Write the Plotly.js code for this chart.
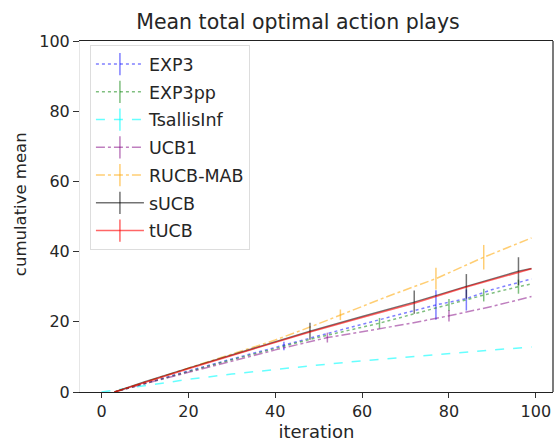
<!DOCTYPE html>
<html>
<head>
<meta charset="utf-8">
<script src="https://cdn.plot.ly/plotly-3.0.1.min.js"></script>
<style>html,body{margin:0;padding:0;background:#fff;}#chart{width:556px;height:442px;}</style>
</head>
<body>
<div id="chart"></div>
<script>
// ---- data ----
const seriesNames = ["EXP3", "EXP3pp", "TsallisInf", "UCB1", "RUCB-MAB", "sUCB", "tUCB"];

const exp3X = [3, 10, 20, 30, 40, 50, 60, 70, 77, 84, 90, 99];
const exp3Y = [0, 2.5, 6.0, 9.4, 12.8, 16.0, 19.3, 22.5, 24.8, 26.6, 29.2, 32.2];
const exp3BarX = [42, 77, 84];
const exp3BarY = [13.1, 24.8, 26.2];
const exp3BarErr = [1.2, 4.2, 3.0];

const exp3ppX = [3, 10, 20, 30, 40, 50, 64, 72, 80, 88, 96, 99];
const exp3ppY = [0, 2.4, 5.8, 9.2, 12.4, 15.6, 19.6, 22.3, 24.8, 27.6, 30.0, 30.8];
const exp3ppBarX = [64, 80, 88, 96];
const exp3ppBarY = [19.6, 24.8, 27.6, 30.0];
const exp3ppBarErr = [1.5, 1.7, 1.8, 2.0];

const tsallisX = [0, 10, 20, 30, 40, 50, 60, 70, 80, 90, 99];
const tsallisY = [0, 1.9, 3.6, 5.1, 6.5, 7.7, 8.9, 10.0, 11.0, 12.0, 12.8];

const ucb1X = [3, 10, 20, 30, 40, 52, 62, 70, 80, 90, 99];
const ucb1Y = [0, 2.4, 5.6, 8.8, 12.0, 15.5, 17.6, 19.3, 21.7, 24.4, 27.2];
const ucb1BarX = [52, 80];
const ucb1BarY = [15.5, 21.7];
const ucb1BarErr = [1.4, 1.6];

const rucbX = [3, 10, 20, 30, 40, 48, 55, 66, 77, 88, 99];
const rucbY = [0, 2.8, 6.7, 10.6, 14.8, 18.5, 22.0, 27.3, 32.3, 38.4, 43.9];
const rucbBarX = [55, 77, 88];
const rucbBarY = [22.0, 32.3, 38.4];
const rucbBarErr = [1.5, 3.1, 3.5];

const sucbX = [3, 10, 20, 30, 40, 48, 60, 72, 84, 96, 99];
const sucbY = [0, 2.9, 6.8, 10.6, 14.4, 17.3, 21.5, 25.6, 30.1, 34.4, 35.2];
const sucbBarX = [48, 72, 84, 96];
const sucbBarY = [17.3, 25.6, 30.1, 34.4];
const sucbBarErr = [2.4, 3.3, 3.5, 4.0];

const tucbX = [3, 10, 20, 30, 40, 48, 60, 72, 84, 96, 99];
const tucbY = [0, 2.8, 6.6, 10.4, 14.1, 17.1, 21.2, 25.3, 29.9, 34.2, 35.1];

const xTicks = [0, 20, 40, 60, 80, 100];
const yTicks = [0, 20, 40, 60, 80, 100];

// ---- styles ----
const styles = {
  "EXP3":       {color: "rgba(0,0,255,0.5)",    dash: "dot"},
  "EXP3pp":     {color: "rgba(0,128,0,0.5)",    dash: "dot"},
  "TsallisInf": {color: "rgba(0,255,255,0.6)",  dash: "dash"},
  "UCB1":       {color: "rgba(128,0,128,0.5)",  dash: "dashdot"},
  "RUCB-MAB":   {color: "rgba(255,165,0,0.55)", dash: "dashdot"},
  "sUCB":       {color: "rgba(0,0,0,0.55)",     dash: "solid"},
  "tUCB":       {color: "rgba(255,0,0,0.6)",    dash: "solid"}
};

const lineData = {
  "EXP3": [exp3X, exp3Y], "EXP3pp": [exp3ppX, exp3ppY], "TsallisInf": [tsallisX, tsallisY],
  "UCB1": [ucb1X, ucb1Y], "RUCB-MAB": [rucbX, rucbY], "sUCB": [sucbX, sucbY], "tUCB": [tucbX, tucbY]
};
const barData = {
  "EXP3": [exp3BarX, exp3BarY, exp3BarErr], "EXP3pp": [exp3ppBarX, exp3ppBarY, exp3ppBarErr],
  "UCB1": [ucb1BarX, ucb1BarY, ucb1BarErr], "RUCB-MAB": [rucbBarX, rucbBarY, rucbBarErr],
  "sUCB": [sucbBarX, sucbBarY, sucbBarErr]
};

const traces = [];
seriesNames.forEach(function(name) {
  const st = styles[name];
  const ld = lineData[name];
  traces.push({
    x: ld[0], y: ld[1], type: "scatter", mode: "lines", name: name,
    legendgroup: name, showlegend: false,
    line: {color: st.color, dash: st.dash, width: 1.5}, hoverinfo: "skip"
  });
  if (barData[name]) {
    const bd = barData[name];
    traces.push({
      x: bd[0], y: bd[1], type: "scatter", mode: "markers", name: name,
      legendgroup: name, showlegend: false,
      marker: {size: 1, color: "rgba(0,0,0,0)"},
      error_y: {type: "data", array: bd[2], visible: true, color: st.color, thickness: 1.5, width: 0},
      hoverinfo: "skip"
    });
  }
  // legend-only entry: line with vertical tick
  traces.push({
    x: [null], y: [null], type: "scatter", mode: "lines+markers", name: name,
    legendgroup: name, showlegend: true,
    line: {color: st.color, dash: st.dash, width: 1.5},
    marker: {symbol: "line-ns-open", size: 16, color: st.color, line: {color: st.color, width: 1.5}}
  });
});

const layout = {
  width: 556, height: 442,
  margin: {l: 80, r: 3, t: 41, b: 50},
  paper_bgcolor: "#fff", plot_bgcolor: "#fff",
  font: {family: "DejaVu Sans", color: "#262626", size: 16},
  title: {text: "Mean total optimal action plays", font: {size: 20.5, color: "#262626"},
          x: 298/556, xref: "container", xanchor: "center",
          y: 1 - 22/442, yref: "container", yanchor: "middle"},
  xaxis: {
    range: [-4.95, 103.95], tickvals: xTicks, ticktext: xTicks.map(String),
    showgrid: false, zeroline: false, showline: true, linecolor: "#222", linewidth: 1.2, mirror: true,
    ticks: "outside", ticklen: 5, tickwidth: 1, tickcolor: "#333",
    tickfont: {size: 16, color: "#262626"},
    title: {text: "iteration", font: {size: 18, color: "#262626"}, standoff: 1}
  },
  yaxis: {
    range: [0, 100], tickvals: yTicks, ticktext: yTicks.map(String),
    showgrid: false, zeroline: false, showline: true, linecolor: "#e6e6e6", linewidth: 1,
    ticks: "outside", ticklen: 6, tickwidth: 1, tickcolor: "#333",
    tickfont: {size: 16, color: "#262626"}
  },
  annotations: [
    {text: "cumulative mean", xref: "paper", yref: "paper", x: -60/474, y: (392 - 204)/351,
     xanchor: "center", yanchor: "middle", textangle: -90, showarrow: false,
     font: {size: 16.5, color: "#262626"}}
  ],
  shapes: [
    {type: "line", xref: "paper", yref: "paper", x0: 1, x1: 1, y0: 0, y1: 1,
     line: {color: "#222", width: 1.2}}
  ],
  legend: {
    x: 0.021, y: 0.988, xanchor: "left", yanchor: "top",
    bgcolor: "rgba(255,255,255,0.9)", bordercolor: "#dddddd", borderwidth: 1,
    font: {size: 17.5, color: "#262626"}, traceorder: "grouped", tracegroupgap: 2,
    itemwidth: 48
  },
  showlegend: true
};

Plotly.newPlot("chart", traces, layout, {staticPlot: true, displayModeBar: false});
</script>
</body>
</html>
